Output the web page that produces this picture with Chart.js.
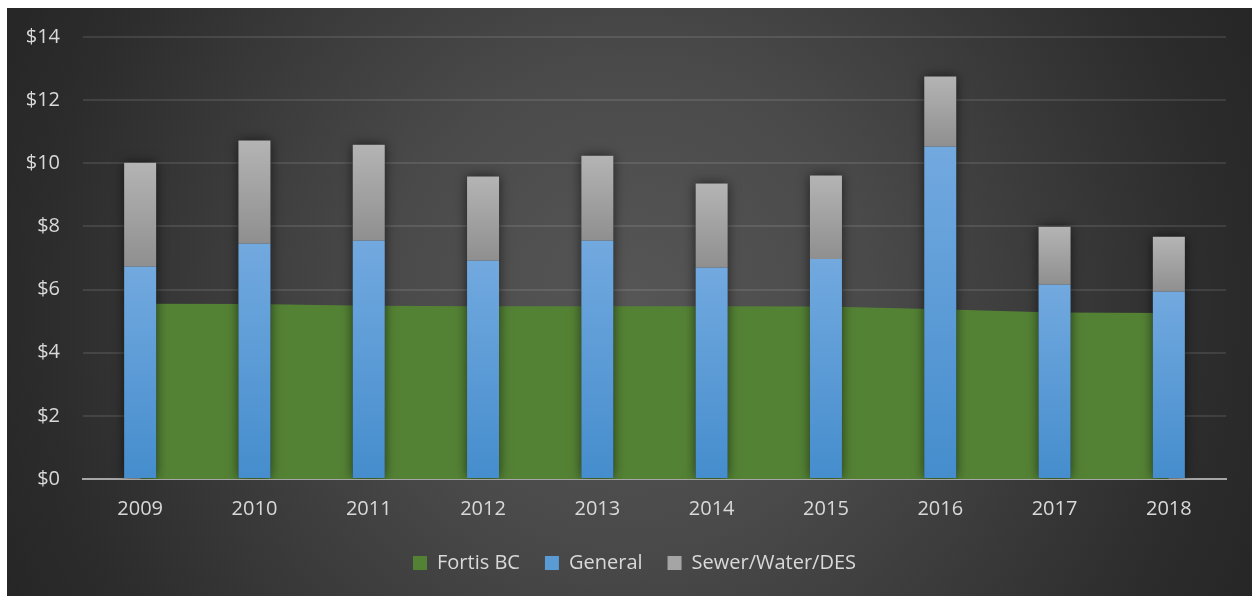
<!DOCTYPE html>
<html>
<head>
<meta charset="utf-8">
<script src="https://cdn.jsdelivr.net/npm/chart.js@4.4.0/dist/chart.umd.min.js"></script>
<style>
  html, body { margin: 0; padding: 0; background: #fff; }
  #wrap {
    position: absolute; left: 7px; top: 8px; width: 1245px; height: 588px;
    background: radial-gradient(circle farthest-corner at 50% 50%, #565656 0%, #4a4a4a 35%, #2c2c2c 85%, #262626 100%);
  }
</style>
</head>
<body>
<div id="wrap"><canvas id="chart"></canvas></div>
<script>
// values ($)
const years = ['2009', '2010', '2011', '2012', '2013', '2014', '2015', '2016', '2017', '2018'];
const fortisBC = [5.55, 5.54, 5.49, 5.47, 5.47, 5.47, 5.46, 5.38, 5.27, 5.26];
const general = [6.72, 7.45, 7.55, 6.91, 7.55, 6.69, 6.97, 10.52, 6.15, 5.93];
const sewerWaterDES = [3.30, 3.27, 3.04, 2.67, 2.69, 2.67, 2.64, 2.23, 1.84, 1.74];
const yTicks = [0, 2, 4, 6, 8, 10, 12, 14];

Chart.defaults.font.family = "'Open Sans', sans-serif";
Chart.defaults.font.size = 20;
Chart.defaults.color = '#d9d9d9';

// vertical gradient per bar segment
function segmentFill(values, below, topColor, bottomColor) {
  return (c) => {
    const chart = c.chart;
    const y = chart.scales.y;
    if (!y || c.dataIndex === undefined) return bottomColor;
    const base = below ? below[c.dataIndex] : 0;
    const top = y.getPixelForValue(base + values[c.dataIndex]);
    const bottom = y.getPixelForValue(base);
    if (!isFinite(top) || !isFinite(bottom) || top === bottom) return bottomColor;
    const g = chart.ctx.createLinearGradient(0, top, 0, bottom);
    g.addColorStop(0, topColor);
    g.addColorStop(1, bottomColor);
    return g;
  };
}

// soft shadows like the office chart style
const shadows = {
  id: 'shadows',
  beforeDatasetDraw(chart, args) {
    if (args.index !== 0) return;
    const ctx = chart.ctx;
    ctx.save();
    ctx.shadowColor = 'rgba(0,0,0,0.35)';
    ctx.shadowBlur = 6;
  },
  afterDatasetDraw(chart, args) {
    if (args.index !== 0) return;
    const ctx = chart.ctx;
    ctx.restore();
    const area = chart.chartArea;
    const gen = chart.getDatasetMeta(1).data;
    const sew = chart.getDatasetMeta(2).data;
    ctx.save();
    ctx.beginPath();
    ctx.rect(area.left, area.top - 20, area.right - area.left, area.bottom - area.top + 20);
    ctx.clip();
    ctx.shadowColor = 'rgba(0,0,0,0.6)';
    ctx.shadowBlur = 12;
    ctx.fillStyle = '#2a2a2a';
    gen.forEach((bar, i) => {
      const top = sew[i].y;
      ctx.fillRect(bar.x - bar.width / 2, top, bar.width, bar.base - top);
    });
    ctx.restore();
  }
};

// legend sits a bit right of the canvas centre in the original
const legendShift = {
  id: 'legendShift',
  afterLayout(chart) {
    if (!chart.legend) return;
    chart.legend.left += 18;
    chart.legend.right += 18;
  }
};

new Chart(document.getElementById('chart'), {
  type: 'bar',
  data: {
    labels: years,
    datasets: [{
      type: 'line',
      label: 'Fortis BC',
      data: fortisBC,
      stack: 'fortis',
      order: 1,
      fill: 'origin',
      backgroundColor: '#548235',
      borderColor: '#548235',
      borderWidth: 0,
      pointRadius: 0,
      pointHoverRadius: 0,
      tension: 0,
      legendColor: '#548235'
    }, {
      label: 'General',
      data: general,
      stack: 'bills',
      order: 0,
      backgroundColor: segmentFill(general, null, '#72a9df', '#458dcd'),
      borderWidth: 0,
      legendColor: '#5b9bd5'
    }, {
      label: 'Sewer/Water/DES',
      data: sewerWaterDES,
      stack: 'bills',
      order: 0,
      backgroundColor: segmentFill(sewerWaterDES, general, '#b4b4b4', '#8f8f8f'),
      borderWidth: 0,
      legendColor: '#a5a5a5'
    }]
  },
  options: {
    responsive: true,
    maintainAspectRatio: false,
    animation: false,
    layout: { padding: { left: 0, right: 26, top: 29, bottom: 13 } },
    datasets: {
      bar: { barPercentage: 0.28, categoryPercentage: 1 }
    },
    scales: {
      x: {
        stacked: true,
        grid: { display: false, drawTicks: false },
        border: { color: '#a6a6a6', width: 2 },
        ticks: { padding: 18, color: '#d9d9d9' },
        afterFit(s) { s.height = 49; }
      },
      y: {
        stacked: true,
        min: 0,
        max: 14,
        afterBuildTicks(s) { s.ticks = yTicks.map(v => ({ value: v })); },
        ticks: { padding: 23, color: '#d9d9d9', callback: v => '$' + v },
        grid: { color: 'rgba(255,255,255,0.1)', lineWidth: 2, drawTicks: false },
        border: { display: false },
        afterFit(s) { s.width = 76; s.paddingTop = 0; s.paddingBottom = 0; }
      }
    },
    plugins: {
      tooltip: { enabled: false },
      legend: {
        position: 'bottom',
        labels: {
          boxWidth: 14,
          boxHeight: 14,
          padding: 25,
          color: '#d9d9d9',
          generateLabels(chart) {
            const items = Chart.defaults.plugins.legend.labels.generateLabels(chart);
            items.forEach(it => {
              const ds = chart.data.datasets[it.datasetIndex];
              it.fillStyle = ds.legendColor;
              it.strokeStyle = ds.legendColor;
              it.lineWidth = 0;
            });
            return items.sort((a, b) => a.datasetIndex - b.datasetIndex);
          }
        }
      }
    }
  },
  plugins: [shadows, legendShift]
});
</script>
</body>
</html>
